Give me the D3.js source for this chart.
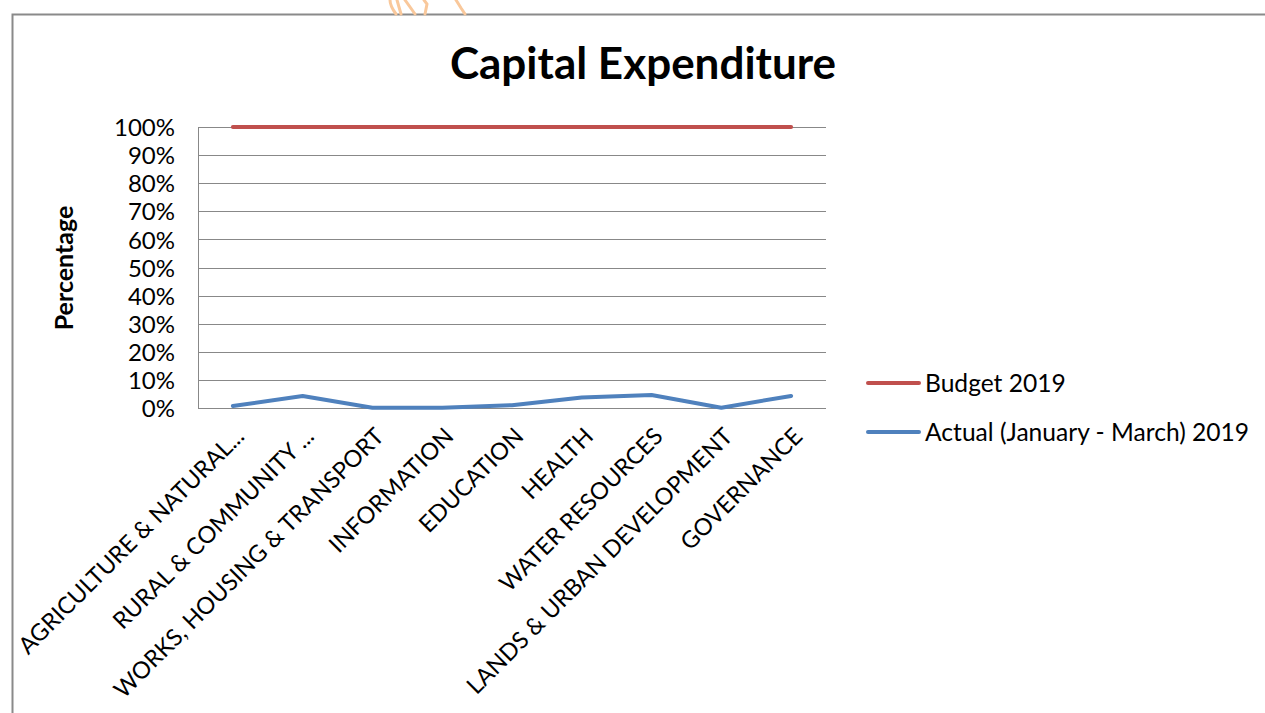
<!DOCTYPE html>
<html><head><meta charset="utf-8">
<script src="https://cdn.jsdelivr.net/npm/d3@7"></script>
<style>
html,body{margin:0;padding:0;background:#fff;}
svg{display:block;}
text{font-family:Lato,"Open Sans",sans-serif;fill:#000;}
</style></head>
<body>
<svg id="chart" width="1265" height="713"></svg>
<script>
const categories = ["AGRICULTURE & NATURAL...", "RURAL & COMMUNITY ...", "WORKS, HOUSING & TRANSPORT", "INFORMATION", "EDUCATION", "HEALTH", "WATER RESOURCES", "LANDS & URBAN DEVELOPMENT", "GOVERNANCE"];
const budget2019 = [1, 1, 1, 1, 1, 1, 1, 1, 1];
const actual2019 = [0.007, 0.043, 0.001, 0.001, 0.010, 0.037, 0.046, 0.001, 0.043];
const seriesNames = ["Budget 2019", "Actual (January - March) 2019"];
const seriesColors = ["#C0504D", "#4F81BD"];
const yTicks = [0, 0.1, 0.2, 0.3, 0.4, 0.5, 0.6, 0.7, 0.8, 0.9, 1.0];

const svg = d3.select("#chart");
const W = 1265, H = 713;

// outer frame
svg.append("rect").attr("x", 12.5).attr("y", 14.5).attr("width", W).attr("height", H)
  .attr("fill", "none").attr("stroke", "#8a8a8a").attr("stroke-width", 2);

// watermark fragment
const wm = svg.append("g").attr("fill", "none").attr("stroke", "#F9C89B").attr("stroke-width", 3).attr("stroke-linecap", "round");
wm.append("path").attr("d", "M390,0 C390,6 393,10 396,14");
wm.append("path").attr("d", "M397,0 L401,14");
wm.append("path").attr("d", "M405,0 L415,14");
wm.append("path").attr("d", "M424,0 L427,4 L425,14");
wm.append("path").attr("d", "M456,0 L461,8 L465,14");

const plot = {left: 198, right: 826, top: 127, bottom: 408};

const x = d3.scaleBand().domain(categories).range([plot.left, plot.right]).paddingInner(0).paddingOuter(0);
const y = d3.scaleLinear().domain([0, 1]).range([plot.bottom, plot.top]);

// title
svg.append("text").attr("x", 643).attr("y", 79).attr("text-anchor", "middle")
  .style("font-size", "44px").style("font-weight", "bold").text("Capital Expenditure");

// gridlines
svg.append("g").selectAll("line").data(yTicks.filter(d => d > 0)).join("line")
  .attr("x1", plot.left).attr("x2", plot.right)
  .attr("y1", d => Math.round(y(d)) + 0.5).attr("y2", d => Math.round(y(d)) + 0.5)
  .attr("stroke", "#888").attr("stroke-width", 1);

// axes lines
svg.append("line").attr("x1", plot.left + 0.5).attr("x2", plot.left + 0.5)
  .attr("y1", plot.top).attr("y2", plot.bottom).attr("stroke", "#888");
svg.append("line").attr("x1", plot.left).attr("x2", plot.right)
  .attr("y1", plot.bottom + 0.5).attr("y2", plot.bottom + 0.5).attr("stroke", "#888");

// y tick labels
const yAxis = d3.axisLeft(y).tickValues(yTicks).tickFormat(d3.format(".0%")).tickSize(0).tickPadding(23);
const ya = svg.append("g").attr("transform", `translate(${plot.left},0)`).call(yAxis);
ya.select(".domain").remove();
ya.selectAll("text").style("font-size", "24px").style("font-family", "Lato, 'Open Sans', sans-serif").attr("fill", "#000").attr("dy", "0.36em");

// y axis title
svg.append("text").attr("transform", `translate(73,268) rotate(-90)`).attr("text-anchor", "middle")
  .style("font-size", "25px").style("font-weight", "bold").text("Percentage");

// x labels
const xAxis = d3.axisBottom(x).tickSize(0).tickPadding(0);
const xa = svg.append("g").attr("transform", `translate(0,${plot.bottom})`).call(xAxis);
xa.select(".domain").remove();
xa.selectAll("text")
  .attr("text-anchor", "end")
  .attr("transform", "translate(7,24) rotate(-45)")
  .attr("dy", "0.35em").attr("y", 0).attr("x", 0)
  .style("font-size", "23.5px").style("font-family", "Lato, 'Open Sans', sans-serif").attr("fill", "#000");

// lines
const line = d3.line().x((d, i) => x(categories[i]) + x.bandwidth() / 2).y(d => y(d));
[budget2019, actual2019].forEach((s, i) => {
  svg.append("path").datum(s).attr("d", line).attr("fill", "none")
    .attr("stroke", seriesColors[i]).attr("stroke-width", 4).attr("stroke-linecap", "round").attr("stroke-linejoin", "round");
});

// legend
const lg = svg.append("g");
seriesNames.forEach((n, i) => {
  const yy = 383 + i * 49;
  lg.append("line").attr("x1", 868).attr("x2", 919).attr("y1", yy).attr("y2", yy)
    .attr("stroke", seriesColors[i]).attr("stroke-width", 4).attr("stroke-linecap", "round");
  lg.append("text").attr("x", 925).attr("y", yy).attr("dy", "0.36em").style("font-size", "24.6px").text(n);
});
</script>
</body></html>
